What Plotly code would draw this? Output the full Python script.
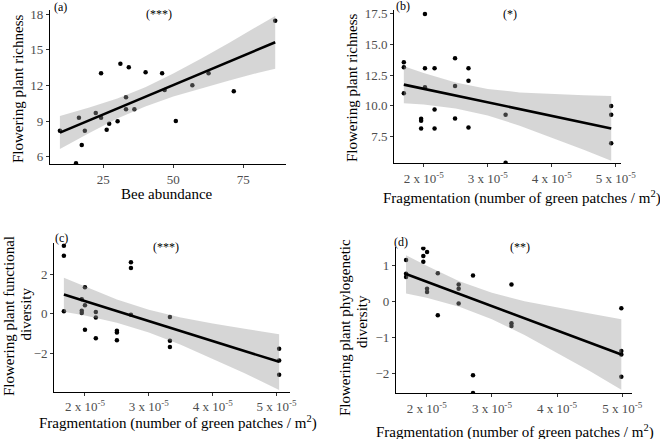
import plotly.graph_objects as go

SCALE = 1e-5
W, H = 660, 439

# ---------------- data ----------------
# (a) Bee abundance vs flowering plant richness
a_x = [9.5, 16.3, 17.3, 15.25, 18.4, 22.3, 24.2, 24.2, 26.2, 27.1, 30.1, 31.1,
       33.1, 33.1, 34.1, 36.1, 40.1, 46.0, 46.9, 50.9, 56.8, 62.6, 71.6, 86.4]
a_y = [8.19, 9.29, 6.99, 5.45, 8.19, 9.68, 13.03, 9.29, 8.28, 8.78, 8.98, 13.84,
       11.0, 10.0, 13.53, 10.0, 13.11, 13.03, 11.62, 9.01, 12.02, 13.03, 11.51, 17.46]
a_fit_x = [9.5, 86.4]
a_fit_y = [8.03, 15.64]
a_rib_x = [9.5, 20, 30, 40, 50, 60, 70, 80, 86.4]
a_rib_lo = [6.65, 8.00, 9.21, 10.24, 11.07, 11.78, 12.43, 13.05, 13.42]
a_rib_hi = [9.43, 10.14, 10.91, 11.86, 13.01, 14.28, 15.61, 16.97, 17.86]

# (b) Fragmentation (x 1e-5) vs flowering plant richness
b_x = [1.69, 1.69, 1.69, 1.96, 1.96, 1.96, 2.02, 2.02, 2.02, 2.17, 2.17, 2.17,
       2.49, 2.49, 2.49, 2.70, 2.70, 2.70, 3.28, 3.28, 4.93, 4.93, 4.93]
b_y = [13.53, 13.12, 11.01, 8.95, 8.8, 8.17, 17.45, 13.04, 11.5, 13.04, 9.71, 8.17,
       13.85, 11.6, 8.98, 13.04, 12.03, 8.25, 9.28, 5.38, 9.98, 9.28, 6.96]
b_fit_x = [1.69, 4.93]
b_fit_y = [11.72, 8.17]
b_rib_x = [1.69, 2.0, 2.5, 3.0, 3.5, 4.0, 4.5, 4.93]
b_rib_lo = [10.21, 10.10, 9.78, 9.21, 8.39, 7.44, 6.43, 5.54]
b_rib_hi = [13.21, 12.66, 11.90, 11.37, 11.09, 10.94, 10.85, 10.80]

# (c) Fragmentation vs flowering plant functional diversity
c_x = [1.67, 1.67, 1.67, 1.95, 1.95, 1.95, 2.0, 2.0, 2.0, 2.17, 2.17, 2.17,
       2.50, 2.50, 2.50, 2.72, 2.72, 2.72, 3.33, 3.33, 3.33, 5.04, 5.04, 5.04]
c_y = [3.45, 2.94, 0.13, 0.74, 0.16, 0.04, 1.34, 0.43, -0.80, 0.09, -0.18, -1.23,
       -0.85, -0.94, -1.33, 2.61, 2.32, -0.04, -0.16, -1.36, -1.68, -1.77, -2.36, -3.08]
c_fit_x = [1.67, 5.04]
c_fit_y = [0.98, -2.43]
c_rib_x = [1.67, 2.0, 2.5, 3.0, 3.5, 4.0, 4.5, 5.04]
c_rib_lo = [0.11, -0.08, -0.45, -0.94, -1.56, -2.27, -3.01, -3.85]
c_rib_hi = [1.83, 1.38, 0.73, 0.21, -0.18, -0.49, -0.75, -1.03]

# (d) Fragmentation vs flowering plant phylogenetic diversity
d_x = [1.683, 1.683, 1.683, 1.948, 1.948, 1.948, 2.005, 2.005, 2.005, 2.17, 2.17,
       2.49, 2.49, 2.49, 2.71, 2.71, 2.71, 3.30, 3.30, 3.30, 4.985, 4.985, 4.985, 4.985]
d_y = [1.16, 0.78, 0.69, 1.49, 1.27, 1.11, 1.38, 0.36, 0.27, 0.79, -0.38,
       0.48, 0.36, -0.05, 0.73, -2.05, -2.54, 0.48, -0.60, -0.68, -0.18, -1.37, -1.47, -2.09]
d_fit_x = [1.683, 4.985]
d_fit_y = [0.77, -1.47]
d_rib_x = [1.683, 2.0, 2.5, 3.0, 3.5, 4.0, 4.5, 4.985]
d_rib_lo = [0.23, 0.11, -0.14, -0.49, -0.93, -1.42, -1.93, -2.45]
d_rib_hi = [1.29, 1.00, 0.57, 0.25, 0.01, -0.17, -0.33, -0.49]

frag_ticks = [2, 3, 4, 5]
frag_ticktext = ["2 x 10<sup>-5</sup>", "3 x 10<sup>-5</sup>",
                 "4 x 10<sup>-5</sup>", "5 x 10<sup>-5</sup>"]
a_xticks = [25, 50, 75]
a_yticks = [6, 9, 12, 15, 18]
b_yticks = [7.5, 10.0, 12.5, 15.0, 17.5]
c_yticks = [-2, 0, 2]
d_yticks = [-2, -1, 0, 1]

panel_labels = ["(a)", "(b)", "(c)", "(d)"]
signif = ["(***)", "(*)", "(***)", "(**)"]
frag_title = "Fragmentation (number of green patches / m<sup>2</sup>)"
x_titles = ["Bee abundance", frag_title, frag_title, frag_title]
# each y title as its own lines
y_title_lines = [["Flowering plant richness"], ["Flowering plant richness"],
                 ["Flowering plant functional", "diversity"],
                 ["Flowering plant phylogenetic", "diversity"]]

# ---------------- styling ----------------
FONT = "Liberation Serif"
RIBBON = "rgba(153,153,153,0.4)"

def px_x(p):
    return p / W

def px_y(p):
    return 1 - p / H

def fmt_minus(v):
    return ("\u2212" + str(-v)) if v < 0 else str(v)

panels = [
    dict(x=a_x, y=a_y, fx=a_fit_x, fy=a_fit_y, rx=a_rib_x, rlo=a_rib_lo, rhi=a_rib_hi,
         scale=1.0, dom_x=(50, 286), dom_y=(10, 164), xr=(5.96, 90.25), yr=(5.385, 18.36),
         xt=a_xticks, xtt=[str(v) for v in a_xticks], yt=a_yticks, ytt=[str(v) for v in a_yticks]),
    dict(x=b_x, y=b_y, fx=b_fit_x, fy=b_fit_y, rx=b_rib_x, rlo=b_rib_lo, rhi=b_rib_hi,
         scale=SCALE, dom_x=(394.3, 621), dom_y=(10, 163.3), xr=(1.541, 5.083), yr=(5.34, 17.77),
         xt=frag_ticks, xtt=frag_ticktext, yt=b_yticks, ytt=[f"{v:.1f}" for v in b_yticks]),
    dict(x=c_x, y=c_y, fx=c_fit_x, fy=c_fit_y, rx=c_rib_x, rlo=c_rib_lo, rhi=c_rib_hi,
         scale=SCALE, dom_x=(54.3, 290), dom_y=(243.3, 391.7), xr=(1.52, 5.21), yr=(-3.94, 3.57),
         xt=frag_ticks, xtt=frag_ticktext, yt=c_yticks, ytt=[fmt_minus(v) for v in c_yticks]),
    dict(x=d_x, y=d_y, fx=d_fit_x, fy=d_fit_y, rx=d_rib_x, rlo=d_rib_lo, rhi=d_rib_hi,
         scale=SCALE, dom_x=(396, 631.7), dom_y=(246.7, 393.3), xr=(1.529, 5.144), yr=(-2.55, 1.53),
         xt=frag_ticks, xtt=frag_ticktext, yt=d_yticks, ytt=[fmt_minus(v) for v in d_yticks]),
]

fig = go.Figure()
layout = dict(
    template="none",
    width=W, height=H, margin=dict(l=0, r=0, t=0, b=0, autoexpand=False),
    paper_bgcolor="white", plot_bgcolor="white", showlegend=False,
    font=dict(family=FONT, color="black"),
)

for i, p in enumerate(panels):
    n = "" if i == 0 else str(i + 1)
    xa, ya = "x" + n, "y" + n
    s = p["scale"]
    xs = [v * s for v in p["x"]]
    # points
    fig.add_trace(go.Scatter(x=xs, y=p["y"], mode="markers", xaxis=xa, yaxis=ya,
                             marker=dict(color="black", size=4.5, line=dict(width=0)),
                             hoverinfo="skip"))
    # ribbon (drawn on top of points like ggplot's geom_smooth)
    rx = [v * s for v in p["rx"]]
    fig.add_trace(go.Scatter(x=rx + rx[::-1], y=p["rlo"] + p["rhi"][::-1], mode="lines",
                             fill="toself", fillcolor=RIBBON, line=dict(width=0),
                             xaxis=xa, yaxis=ya, hoverinfo="skip"))
    # fitted line
    fig.add_trace(go.Scatter(x=[v * s for v in p["fx"]], y=p["fy"], mode="lines",
                             line=dict(color="black", width=2.6), xaxis=xa, yaxis=ya,
                             hoverinfo="skip"))
    axis_common = dict(showline=True, linecolor="black", linewidth=1.3, mirror=False,
                       ticks="outside", ticklen=3, tickwidth=1, tickcolor="#333333",
                       showgrid=False, zeroline=False, automargin=False,
                       tickfont=dict(family=FONT, size=13, color="#4D4D4D"))
    layout["xaxis" + n] = dict(axis_common, domain=[px_x(p["dom_x"][0]), px_x(p["dom_x"][1])],
                               range=[p["xr"][0] * s, p["xr"][1] * s], anchor=ya,
                               tickmode="array", tickvals=[v * s for v in p["xt"]],
                               ticktext=p["xtt"])
    layout["yaxis" + n] = dict(axis_common, domain=[px_y(p["dom_y"][1]), px_y(p["dom_y"][0])],
                               range=list(p["yr"]), anchor=xa,
                               tickmode="array", tickvals=p["yt"], ticktext=p["ytt"])

fig.update_layout(**layout)

# annotations (panel labels, significance, axis titles) in pixel positions
label_pos = [(60, 7), (403, 6), (62, 238), (401, 242)]
sig_pos = [(159, 14), (510, 14), (166, 247), (520, 247)]
xt_pos = [(167, 194), (522, 197), (178, 422), (515, 431)]
yt_pos = [[(18, 89)], [(352, 88)], [(9, 316), (25.5, 314)], [(345, 328), (362, 322)]]

annots = []
for i in range(4):
    annots.append(dict(text=panel_labels[i], x=px_x(label_pos[i][0]), y=px_y(label_pos[i][1]),
                       xref="paper", yref="paper", showarrow=False, xanchor="center",
                       yanchor="middle", font=dict(family=FONT, size=12, color="black")))
    annots.append(dict(text=signif[i], x=px_x(sig_pos[i][0]), y=px_y(sig_pos[i][1]),
                       xref="paper", yref="paper", showarrow=False, xanchor="center",
                       yanchor="middle", font=dict(family=FONT, size=12, color="black")))
    annots.append(dict(text=x_titles[i], x=px_x(xt_pos[i][0]), y=px_y(xt_pos[i][1]),
                       xref="paper", yref="paper", showarrow=False, xanchor="center",
                       yanchor="middle", font=dict(family=FONT, size=15, color="black")))
    for line_text, (lx, ly) in zip(y_title_lines[i], yt_pos[i]):
        annots.append(dict(text=line_text, x=px_x(lx), y=px_y(ly),
                           xref="paper", yref="paper", showarrow=False, xanchor="center",
                           yanchor="middle", textangle=-90,
                           font=dict(family=FONT, size=15, color="black")))
fig.update_layout(annotations=annots)

fig.write_html("out.html", config={"displayModeBar": False},
               post_script="document.body.style.margin='0';")
